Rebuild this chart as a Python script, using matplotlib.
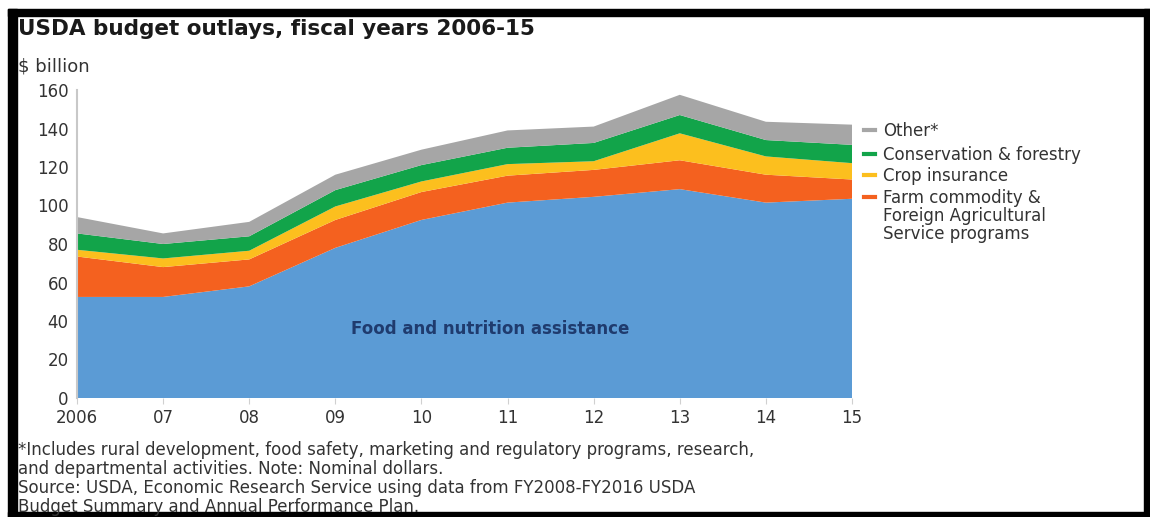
import matplotlib.pyplot as plt
from matplotlib.patches import Rectangle
from matplotlib.lines import Line2D

W, H = 1150, 517

years = [2006, 2007, 2008, 2009, 2010, 2011, 2012, 2013, 2014, 2015]
year_labels = ['2006', '07', '08', '09', '10', '11', '12', '13', '14', '15']

# $ billion
food = [52.5, 52.5, 58, 78, 92.5, 101.5, 104.5, 108.5, 101.5, 103.5]
farm = [21, 15.5, 14, 14.5, 14.5, 14, 14, 15, 14.5, 10]
crop = [3.5, 4.5, 4.5, 7, 5.5, 6, 4.5, 14, 9.5, 8.5]
conservation = [8.5, 7.5, 7.5, 8.5, 8.5, 8.5, 9.5, 9.5, 8.5, 9.5]
other = [8.5, 5.5, 7.5, 8, 8, 9, 8.5, 10.5, 9.5, 10.5]

colors = ['#5b9bd5', '#f4611f', '#fcbf1e', '#12a44a', '#a6a6a6']
legend_labels = ['Other*', 'Conservation & forestry', 'Crop insurance',
                 'Farm commodity &\nForeign Agricultural\nService programs']
legend_colors = ['#a6a6a6', '#12a44a', '#fcbf1e', '#f4611f']

footnote = ('*Includes rural development, food safety, marketing and regulatory programs, research,\n'
            'and departmental activities. Note: Nominal dollars.\n'
            'Source: USDA, Economic Research Service using data from FY2008-FY2016 USDA\n'
            'Budget Summary and Annual Performance Plan.')

plt.rcParams['font.family'] = ['DejaVu Sans']
txt = '#333333'


def fx(x):
    return x / W


def fy(y):
    return 1 - y / H


fig = plt.figure(figsize=(11.5, 5.17), dpi=100)
ax = fig.add_axes([fx(77), fy(398), fx(852) - fx(77), fy(90) - fy(398)])

ax.stackplot(years, food, farm, crop, conservation, other, colors=colors, linewidth=0)
ax.set_xlim(2006, 2015)
ax.set_ylim(0, 160)
ax.set_yticks(range(0, 161, 20))
ax.set_xticks(years)
ax.set_xticklabels(year_labels)
ax.tick_params(axis='y', length=0, pad=6, labelsize=12, labelcolor=txt)
ax.tick_params(axis='x', length=4, color='#d0d0d0', pad=4, labelsize=12, labelcolor=txt)
for s in ['top', 'right', 'bottom']:
    ax.spines[s].set_visible(False)
ax.spines['left'].set_color('#c8c8c8')
ax.spines['left'].set_linewidth(1.5)

ax.text(2010.8, 36, 'Food and nutrition assistance', ha='center', va='center',
        fontsize=12, fontweight='bold', color='#1f3b6e')

fig.text(fx(18), fy(29), 'USDA budget outlays, fiscal years 2006-15', ha='left', va='center',
         fontsize=15.5, fontweight='bold', color='#1a1a1a')
fig.text(fx(18), fy(67), '$ billion', ha='left', va='center', fontsize=13, color=txt)

leg_y = [130, 154, 175, 197]
for lab, col, y in zip(legend_labels, legend_colors, leg_y):
    fig.add_artist(Line2D([fx(864), fx(875)], [fy(y), fy(y)], color=col, lw=3))
    fig.text(fx(883), fy(y - 8), lab, ha='left', va='top', fontsize=12, color=txt,
             linespacing=1.0)

fig.text(fx(18), fy(441), footnote, ha='left', va='top', fontsize=12, color=txt,
         linespacing=1.08)

# black frame around the picture
for rect in [(8, 9, 1142, 7), (8, 9, 9, 508), (8, 512, 1142, 5), (1144, 9, 6, 508)]:
    x, y, w, h = rect
    fig.add_artist(Rectangle((fx(x), fy(y + h)), w / W, h / H, color='black',
                             transform=fig.transFigure))

plt.savefig('out.png', dpi=100)
